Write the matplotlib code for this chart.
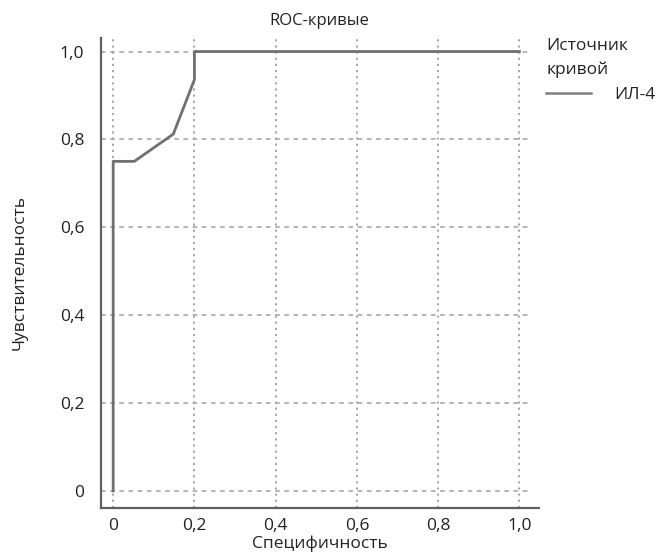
import matplotlib
matplotlib.use("Agg")
import matplotlib.pyplot as plt

# ROC curve for IL-4
spec = [0.0, 0.0, 0.052, 0.148, 0.2, 0.2, 1.0]
sens = [0.0, 0.75, 0.75, 0.812, 0.936, 1.0, 1.0]

xticks = [0, 0.2, 0.4, 0.6, 0.8, 1.0]
yticks = [0, 0.2, 0.4, 0.6, 0.8, 1.0]
tick_labels = ["0", "0,2", "0,4", "0,6", "0,8", "1,0"]

plt.rcParams["font.family"] = ["Open Sans", "DejaVu Sans"]

fig = plt.figure(figsize=(6.57, 5.59), dpi=100)
ax = fig.add_axes([0.1537, 0.0912, 0.666, 0.841])

ax.set_xlim(-0.03, 1.047)
ax.set_ylim(-0.039, 1.031)

# grid: dotted verticals, dashed horizontals
ax.vlines(xticks, -0.039, 1.031, colors="#a0a0a0", linestyles=(0, (1.2, 2.2)), lw=1.3, zorder=1)
ax.hlines(yticks, -0.03, 1.02, colors="#a0a0a0", linestyles=(0, (3, 3)), lw=1.1, zorder=1)

ax.plot(spec, sens, color="#707070", lw=2.0, label="ИЛ-4", zorder=3)

ax.set_xticks(xticks)
ax.set_xticklabels(tick_labels)
ax.set_yticks(yticks)
ax.set_yticklabels(tick_labels)
ax.tick_params(length=0, labelsize=12.5, colors="#222222")
ax.tick_params(axis="y", pad=12)
ax.tick_params(axis="x", pad=7)

for side in ("top", "right"):
    ax.spines[side].set_visible(False)
for side in ("left", "bottom"):
    ax.spines[side].set_color("#606060")
    ax.spines[side].set_linewidth(1.6)

ax.set_title("ROC-кривые", fontsize=12, color="#222222", pad=9)
ax.set_xlabel("Специфичность", fontsize=12.5, color="#222222", labelpad=1)
ax.set_ylabel("Чувствительность", fontsize=12.5, color="#222222", labelpad=23)

leg = ax.legend(title="Источник\nкривой", loc="upper left", bbox_to_anchor=(0.99, 1.025),
                frameon=False, fontsize=12.5, title_fontsize=12.5,
                handlelength=2.6, handletextpad=1.3, borderaxespad=0.3)
leg._legend_box.align = "left"
leg._legend_box.sep = 6
for t in leg.get_texts():
    t.set_color("#222222")
for h in leg.get_lines():
    h.set_color("#808080")
    h.set_linewidth(1.8)
leg.get_title().set_color("#222222")
leg.get_title().set_linespacing(1.6)

fig.savefig("out.png", dpi=100)
